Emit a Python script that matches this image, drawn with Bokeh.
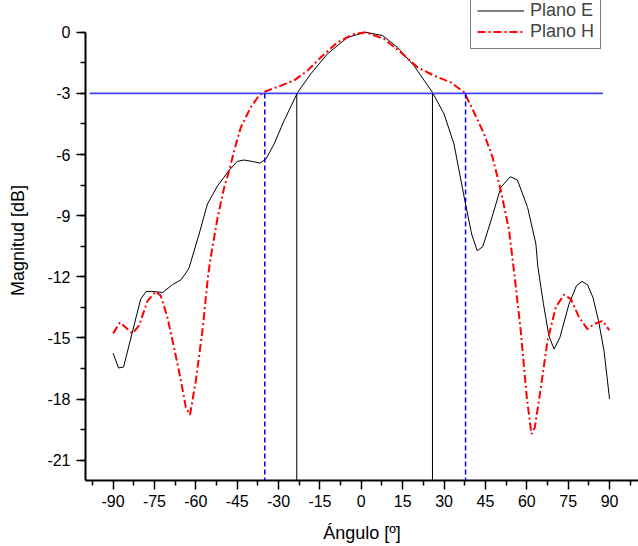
from bokeh.plotting import figure
from bokeh.models import FixedTicker, Legend, LegendItem, Range1d
from bokeh.embed import file_html
from bokeh.resources import INLINE

# Plano E (black, solid)
ang_e = [-90, -88, -86.2, -80, -78, -76, -72, -68.5, -65.4, -63.5, -62.4, -58.8, -55.8, -52.1,
         -48, -45, -42.5, -39.5, -36.7, -34.6, -31.6, -28, -23.1, -18.3, -12.3, -5, 1.6, 7.7,
         13.1, 19.1, 25.8, 30, 33.6, 37.3, 40, 42, 44, 47, 50.6, 54, 56.6, 60.3, 63.3, 64,
         66, 68, 69.9, 72, 75.3, 78, 80, 82, 84, 86, 88, 90]
mag_e = [-15.75, -16.48, -16.43, -13.1, -12.72, -12.72, -12.77, -12.39, -12.15, -11.8, -11.54,
         -9.9, -8.43, -7.53, -6.79, -6.34, -6.27, -6.34, -6.42, -6.22, -5.48, -4.34, -2.95,
         -2.04, -1.06, -0.25, 0.0, -0.16, -0.74, -1.64, -2.95, -4.01, -5.48, -8.1, -9.9,
         -10.72, -10.53, -9.25, -7.61, -7.09, -7.25, -8.6, -10.39, -11.5, -13.3, -14.9,
         -15.55, -14.98, -13.34, -12.44, -12.23, -12.39, -13.02, -14.16, -15.63, -18.0]

# Plano H (red, dash-dot)
ang_h = [-90, -87.5, -85.4, -83, -80.6, -77.5, -74.5, -72.7, -70.3, -67.9, -65.4, -63.6, -62.1,
         -60, -57.6, -55.6, -54.6, -52.1, -49.7, -47.9, -46.1, -43.7, -40.1, -37.1, -35,
         -29.2, -24.4, -19.5, -14.7, -8.6, -2.6, 1.6, 8.3, 14.3, 20.4, 26.4, 32.5, 37.3,
         40.6, 44.5, 47.6, 50.6, 53.6, 55.6, 57.8, 60, 61.7, 62.9, 65.1, 67.5, 70.5, 73.5,
         76, 79, 82, 84.4, 87.5, 89.9]
mag_h = [-14.78, -14.24, -14.49, -14.78, -14.4, -13.18, -12.72, -12.93, -14.0, -15.47, -17.1,
         -18.42, -18.78, -17.1, -14.65, -12.0, -11.05, -9.09, -7.61, -6.79, -5.81, -4.67,
         -3.68, -3.11, -2.91, -2.62, -2.37, -1.88, -1.23, -0.49, -0.08, 0.0, -0.33, -0.98,
         -1.72, -2.13, -2.46, -2.95, -3.85, -4.99, -6.14, -7.78, -9.74, -12.0, -14.65,
         -17.93, -19.72, -19.4, -17.44, -15.14, -13.5, -12.88, -13.1, -14.0, -14.57, -14.32,
         -14.16, -14.62]

# -3 dB marker lines
level_3db = -3
hline_x = [-98.5, 87.6]
beam_e = [-23.4, 25.8]
beam_h = [-35.0, 37.8]
y_floor = -22

x_ticks = list(range(-90, 91, 15))
x_minor = [-97.5 + 15 * i for i in range(14)]
y_ticks = list(range(-21, 1, 3))
y_minor = [-22.5 + 1.5 * i for i in range(16)]

FONT = "Liberation Sans"

p = figure(width=638, height=546, output_backend="svg", toolbar_location=None,
           x_range=Range1d(-100, 100.5), y_range=Range1d(-22, 1.56),
           min_border_left=85, min_border_right=0, min_border_top=0, min_border_bottom=66)
p.outline_line_color = None
p.xgrid.visible = False
p.ygrid.visible = False

# curves
le = p.line(ang_e, mag_e, line_color="black", line_width=1)
lh = p.line(ang_h, mag_h, line_color="#ff0000", line_width=2, line_dash="8 3 2 3")

# marker lines
p.segment(x0=hline_x[0], y0=level_3db, x1=hline_x[1], y1=level_3db, line_color="#4444ff", line_width=1.6)
for a in beam_e:
    p.segment(x0=a, y0=level_3db, x1=a, y1=y_floor, line_color="black", line_width=1)
for a in beam_h:
    p.segment(x0=a, y0=level_3db, x1=a, y1=y_floor, line_color="#0000ff", line_width=1.5, line_dash="5 3")

# axes
for ax in (p.xaxis[0], p.yaxis[0]):
    ax.axis_line_width = 2
    ax.major_tick_line_width = 1.5
    ax.minor_tick_line_width = 1.5
    ax.major_tick_out = 9
    ax.major_tick_in = 0
    ax.minor_tick_out = 5
    ax.minor_tick_in = 0
    ax.major_label_text_font = FONT
    ax.major_label_text_font_size = "16px"
    ax.major_label_text_color = "black"
    ax.axis_label_text_font = FONT
    ax.axis_label_text_font_size = "18px"
    ax.axis_label_text_font_style = "normal"
    ax.axis_label_text_color = "black"

p.xaxis.ticker = FixedTicker(ticks=x_ticks, minor_ticks=x_minor)
p.yaxis.ticker = FixedTicker(ticks=y_ticks, minor_ticks=y_minor)
p.xaxis.major_label_overrides = {t: str(t) for t in x_ticks}
p.yaxis.major_label_overrides = {t: str(t) for t in y_ticks}
p.yaxis.bounds = (-22, 0)
p.xaxis.axis_label = "Ángulo [º]"
p.yaxis.axis_label = "Magnitud [dB]"
p.xaxis.major_label_standoff = 5
p.yaxis.major_label_standoff = 6
p.xaxis.axis_label_standoff = 13
p.yaxis.axis_label_standoff = 16

legend = Legend(items=[LegendItem(label="Plano E", renderers=[le]),
                       LegendItem(label="Plano H", renderers=[lh])],
                location=(385, 431))
legend.label_text_font = FONT
legend.label_text_font_size = "18px"
legend.label_height = 21
legend.glyph_height = 21
legend.glyph_width = 47
legend.label_standoff = 6
legend.spacing = 0
legend.padding = 6
legend.margin = 0
legend.border_line_color = "black"
legend.border_line_width = 1
legend.background_fill_alpha = 1
p.add_layout(legend, "center")

open("out.html", "w").write(file_html(p, INLINE))
